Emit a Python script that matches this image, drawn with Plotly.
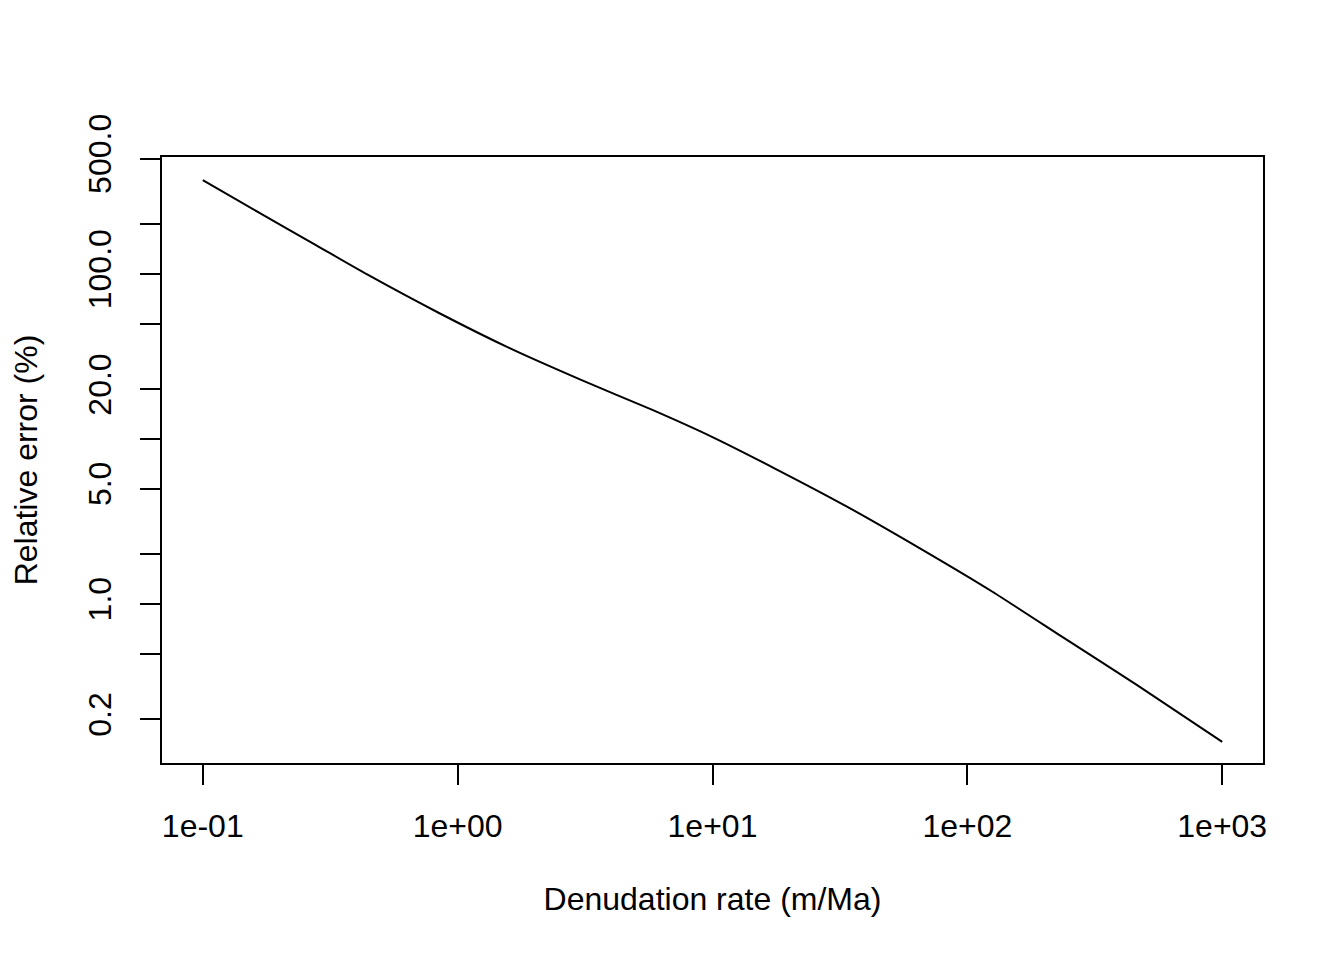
import plotly.graph_objects as go

# values
denudation_rate = [0.1, 0.1656, 0.279, 0.4416, 0.845, 1.60, 3.05, 5.81, 9.95, 17.5, 33.7, 64.9, 125, 240, 462, 1000]
relative_error = [371, 236, 149, 99.3, 58.0, 35.5, 22.8, 15.0, 10.3, 6.64, 3.89, 2.18, 1.19, 0.62, 0.323, 0.146]

x_ticks = [0.1, 1, 10, 100, 1000]
x_labels = ["1e-01", "1e+00", "1e+01", "1e+02", "1e+03"]
y_ticks = [0.2, 0.5, 1, 2, 5, 10, 20, 50, 100, 200, 500]
y_labels = ["0.2", "", "1.0", "", "5.0", "", "20.0", "", "100.0", "", "500.0"]

font = dict(family="Liberation Sans, Arial, sans-serif", size=32, color="black")

fig = go.Figure()
fig.add_trace(go.Scatter(x=denudation_rate, y=relative_error, mode="lines",
                         line=dict(color="black", width=2, shape="spline", smoothing=0.6),
                         showlegend=False))

axis_style = dict(showline=True, linecolor="black", linewidth=2, mirror=True,
                  ticks="outside", ticklen=20, tickwidth=2, tickcolor="black",
                  showgrid=False, zeroline=False, tickfont=font)

fig.update_xaxes(type="log", range=[-1.16, 3.16], tickvals=x_ticks, ticktext=x_labels,
                 ticklabelstandoff=14,
                 title=dict(text="Denudation rate (m/Ma)", font=font, standoff=44),
                 **axis_style)
fig.update_yaxes(type="log", range=[-0.964, 2.709], tickvals=y_ticks, ticktext=y_labels,
                 tickangle=-90, ticklabelstandoff=16,
                 title=dict(text="Relative error (%)", font=font, standoff=40),
                 **axis_style)

fig.update_layout(width=1344, height=960, plot_bgcolor="white", paper_bgcolor="white",
                  margin=dict(l=147, r=89, t=149, b=205), font=font)

fig.write_html("out.html")
